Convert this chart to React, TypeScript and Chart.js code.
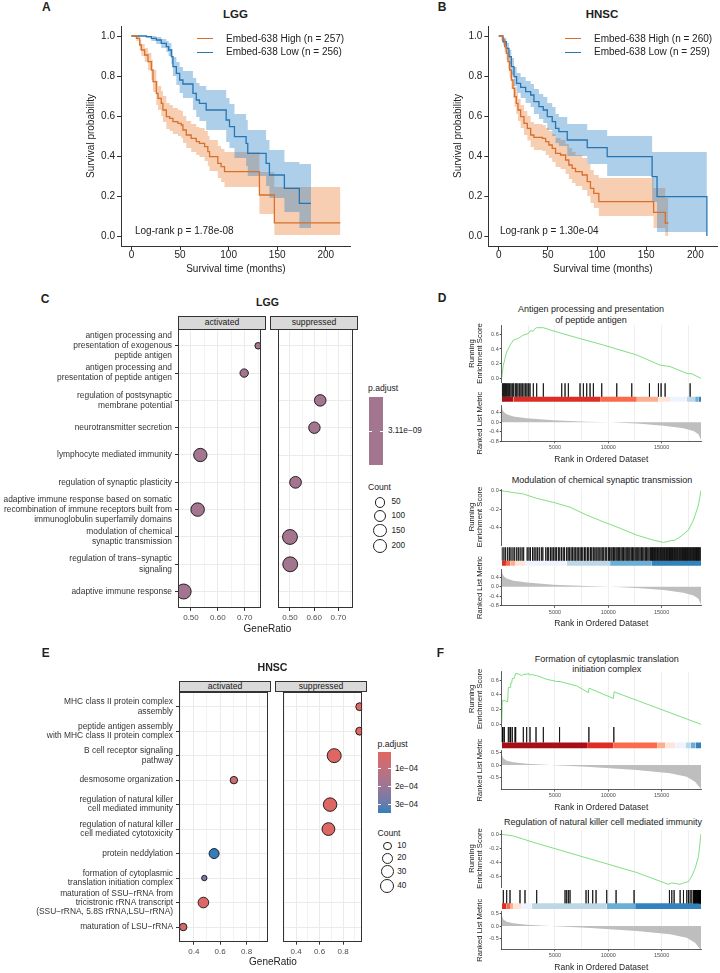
import React, { useEffect, useRef } from 'react';
import { Chart, registerables } from 'chart.js';

Chart.register(...registerables);

const FONT = '"Liberation Sans", Arial, Helvetica, sans-serif';
Chart.defaults.font.family = FONT;
Chart.defaults.color = '#222';

// ---------------- Kaplan–Meier survival data ----------------
const kmXTicks = [0, 50, 100, 150, 200];
const kmYTicks = [0, 0.2, 0.4, 0.6, 0.8, 1.0];

// LGG, Embed-638 High (n = 257)
const lggHighTime = [0, 5.1, 8.5, 10.2, 13.6, 17, 20.5, 22.2, 25.6, 27.3, 30.7, 32.4, 35.9, 39.3, 42.7, 47.8, 51.2, 53, 56.4, 61.5, 66.7, 70, 75.3, 78.6, 80.4, 88.9, 92.3, 95.8, 131.7, 147.1, 215];
const lggHighSurv = [1, 0.988, 0.955, 0.93, 0.905, 0.872, 0.83, 0.772, 0.713, 0.688, 0.663, 0.63, 0.597, 0.588, 0.572, 0.563, 0.555, 0.53, 0.505, 0.488, 0.472, 0.463, 0.447, 0.422, 0.397, 0.363, 0.347, 0.322, 0.205, 0.066, 0.066];
const lggHighLower = [1, 0.975, 0.93, 0.9, 0.87, 0.83, 0.78, 0.72, 0.655, 0.63, 0.6, 0.57, 0.535, 0.525, 0.51, 0.5, 0.49, 0.465, 0.44, 0.42, 0.405, 0.395, 0.375, 0.35, 0.325, 0.29, 0.27, 0.245, 0.11, 0.005, 0.005];
const lggHighUpper = [1, 1, 0.98, 0.96, 0.94, 0.915, 0.88, 0.83, 0.775, 0.75, 0.725, 0.7, 0.665, 0.655, 0.64, 0.63, 0.625, 0.6, 0.575, 0.56, 0.545, 0.54, 0.525, 0.5, 0.48, 0.45, 0.435, 0.42, 0.32, 0.245, 0.245];

// LGG, Embed-638 Low (n = 256)
const lggLowTime = [0, 15.4, 20.5, 25.6, 30.7, 35.9, 38.3, 41.1, 42.7, 46.2, 49.6, 53, 63.3, 66.7, 70, 76.9, 97.5, 100.9, 106, 118, 119.7, 138.6, 142, 157.4, 172.8, 184.8];
const lggLowSurv = [1, 0.997, 0.988, 0.98, 0.963, 0.947, 0.93, 0.897, 0.847, 0.813, 0.78, 0.76, 0.713, 0.68, 0.663, 0.63, 0.58, 0.547, 0.497, 0.463, 0.413, 0.363, 0.305, 0.238, 0.163, 0.163];
const lggLowLower = [1, 0.99, 0.975, 0.96, 0.94, 0.92, 0.9, 0.86, 0.8, 0.755, 0.715, 0.69, 0.63, 0.595, 0.575, 0.53, 0.47, 0.44, 0.39, 0.35, 0.3, 0.25, 0.19, 0.12, 0.04, 0.04];
const lggLowUpper = [1, 1, 1, 0.995, 0.985, 0.975, 0.965, 0.935, 0.895, 0.87, 0.845, 0.825, 0.79, 0.765, 0.75, 0.73, 0.69, 0.66, 0.61, 0.58, 0.53, 0.48, 0.43, 0.37, 0.36, 0.36];

// HNSC, Embed-638 High (n = 260)
const hnscHighTime = [0, 3.7, 6, 7.7, 9.4, 11.1, 12.8, 14.5, 16.2, 17.9, 19.6, 22.3, 25.7, 29.1, 32.5, 35.8, 44.3, 47.7, 51, 54.4, 57.8, 62.9, 68, 71.3, 74.7, 78.1, 84.9, 90, 93.3, 96.7, 101.8, 157.5, 169.4, 172.5];
const hnscHighSurv = [1, 0.98, 0.947, 0.913, 0.872, 0.83, 0.78, 0.738, 0.697, 0.663, 0.63, 0.597, 0.563, 0.538, 0.505, 0.493, 0.488, 0.472, 0.455, 0.438, 0.413, 0.405, 0.38, 0.355, 0.338, 0.322, 0.305, 0.272, 0.238, 0.213, 0.172, 0.118, 0.065, 0.065];
const hnscHighLower = [1, 0.965, 0.92, 0.88, 0.835, 0.79, 0.735, 0.69, 0.645, 0.61, 0.575, 0.54, 0.505, 0.478, 0.445, 0.43, 0.425, 0.405, 0.39, 0.37, 0.345, 0.335, 0.31, 0.285, 0.265, 0.25, 0.23, 0.2, 0.165, 0.14, 0.1, 0.04, 0, 0];
const hnscHighUpper = [1, 0.995, 0.975, 0.945, 0.91, 0.87, 0.825, 0.785, 0.745, 0.715, 0.685, 0.655, 0.625, 0.6, 0.57, 0.56, 0.555, 0.54, 0.525, 0.51, 0.49, 0.48, 0.46, 0.44, 0.42, 0.405, 0.39, 0.36, 0.33, 0.305, 0.29, 0.24, 0.19, 0.19];

// HNSC, Embed-638 Low (n = 259)
const hnscLowTime = [0, 4.4, 7.7, 10.4, 12.8, 15.5, 18.2, 22.3, 27.4, 32.5, 35.8, 40.9, 45.3, 49.4, 54.4, 57.8, 61.2, 69.7, 90, 110.3, 156, 161, 211.7];
const hnscLowSurv = [1, 0.972, 0.938, 0.897, 0.847, 0.797, 0.763, 0.743, 0.722, 0.705, 0.672, 0.647, 0.63, 0.597, 0.572, 0.538, 0.522, 0.48, 0.442, 0.397, 0.297, 0.197, 0];
const hnscLowLower = [1, 0.955, 0.91, 0.86, 0.805, 0.75, 0.715, 0.69, 0.665, 0.645, 0.61, 0.585, 0.565, 0.53, 0.5, 0.465, 0.45, 0.4, 0.36, 0.3, 0.17, 0.02, 0];
const hnscLowUpper = [1, 0.99, 0.965, 0.93, 0.89, 0.845, 0.815, 0.795, 0.775, 0.76, 0.735, 0.71, 0.695, 0.665, 0.645, 0.61, 0.595, 0.56, 0.53, 0.5, 0.42, 0.42, 0];

// ---------------- GO enrichment dot plots ----------------
const M = '\u2212';
const lggTerms = [
  ['antigen processing and', 'presentation of exogenous', 'peptide antigen'],
  ['antigen processing and', 'presentation of peptide antigen'],
  ['regulation of postsynaptic', 'membrane potential'],
  ['neurotransmitter secretion'],
  ['lymphocyte mediated immunity'],
  ['regulation of synaptic plasticity'],
  ['adaptive immune response based on somatic', 'recombination of immune receptors built from', 'immunoglobulin superfamily domains'],
  ['modulation of chemical', 'synaptic transmission'],
  [`regulation of trans${M}synaptic`, 'signaling'],
  ['adaptive immune response'],
];
const lggGroup = ['activated', 'activated', 'suppressed', 'suppressed', 'activated', 'suppressed', 'activated', 'suppressed', 'suppressed', 'activated'];
const lggRatio = [0.75, 0.698, 0.625, 0.601, 0.535, 0.523, 0.525, 0.5, 0.501, 0.473];
const lggCount = [5, 14, 74, 72, 133, 80, 140, 200, 198, 205];
const lggPadj = [3.11e-9, 3.11e-9, 3.11e-9, 3.11e-9, 3.11e-9, 3.11e-9, 3.11e-9, 3.11e-9, 3.11e-9, 3.11e-9];
const lggXMajor = [0.5, 0.6, 0.7];
const lggXMinor = [0.55, 0.65, 0.75];
const lggCountKeys = [50, 100, 150, 200];

const hnscTerms = [
  ['MHC class II protein complex', 'assembly'],
  ['peptide antigen assembly', 'with MHC class II protein complex'],
  ['B cell receptor signaling', 'pathway'],
  ['desmosome organization'],
  ['regulation of natural killer', 'cell mediated immunity'],
  ['regulation of natural killer', 'cell mediated cytotoxicity'],
  ['protein neddylation'],
  ['formation of cytoplasmic', 'translation initiation complex'],
  [`maturation of SSU${M}rRNA from`, 'tricistronic rRNA transcript', `(SSU${M}rRNA, 5.8S rRNA,LSU${M}rRNA)`],
  [`maturation of LSU${M}rRNA`],
];
const hnscGroup = ['suppressed', 'suppressed', 'suppressed', 'activated', 'suppressed', 'suppressed', 'activated', 'activated', 'activated', 'activated'];
const hnscRatio = [0.941, 0.94, 0.724, 0.704, 0.689, 0.675, 0.554, 0.48, 0.473, 0.32];
const hnscCount = [8, 8, 40, 7, 36, 31, 15, 5, 18, 7];
const hnscPadj = [4e-6, 4e-6, 5e-6, 6e-5, 1e-5, 1.2e-5, 3.43e-4, 2.6e-4, 1.5e-5, 4e-5];
const hnscXMajor = [0.4, 0.6, 0.8];
const hnscXMinor = [0.3, 0.5, 0.7, 0.9];
const hnscCountKeys = [10, 20, 30, 40];
const hnscPadjKeys = [1e-4, 2e-4, 3e-4];

// ---------------- GSEA running enrichment score data ----------------
const RANK_MAX = 18700;
const rankXTicks = [2500, 5000, 7500, 10000, 12500, 15000, 17500];
const rankXLabels = [5000, 10000, 15000];

const lggMetricRank = [0, 90, 220, 470, 1100, 2350, 4850, 8000, 10200, 12700, 15200, 17050, 18000, 18460, 18700];
const lggMetricValue = [0.66, 0.52, 0.42, 0.34, 0.25, 0.17, 0.085, 0.025, 0, -0.055, -0.14, -0.25, -0.365, -0.5, -0.75];
const hnscMetricRank = [0, 150, 470, 1090, 2340, 4530, 7970, 12670, 15800, 17360, 18140, 18700];
const hnscMetricValue = [0.45, 0.27, 0.175, 0.11, 0.053, 0, -0.068, -0.2, -0.34, -0.475, -0.68, -0.98];

// Antigen processing and presentation of peptide antigen (LGG)
const d1EsRank = [0, 153, 310, 466, 779, 1092, 1561, 2030, 2500, 2656, 2969, 3063, 3282, 3908, 4534, 6412, 9542, 12672, 14863, 15802, 17368, 17681, 17744, 18700];
const d1EsValue = [0, 0.18, 0.27, 0.36, 0.45, 0.52, 0.545, 0.59, 0.61, 0.645, 0.645, 0.67, 0.69, 0.69, 0.66, 0.58, 0.454, 0.318, 0.18, 0.16, 0.068, 0.06, 0.068, 0];
const d1Hits = [59, 153, 247, 341, 435, 529, 654, 748, 873, 998, 1123, 1279, 1404, 1529, 1686, 1811, 1936, 2092, 2249, 2374, 2531, 2656, 2969, 3282, 3908, 5630, 5943, 6256, 7351, 7664, 7977, 8290, 8603, 9386, 10795, 12203, 13862, 14707, 14957, 15333, 17681];
const d1SegStart = [0, 1090, 9230, 12680, 14700, 15800, 17370, 18150, 18450];
const d1SegColor = ['#A50F15', '#DE2D26', '#FB6A4A', '#FCAE91', '#FEE5D9', '#EFF3FF', '#BDD7E7', '#6BAED6', '#3182BD'];

// Modulation of chemical synaptic transmission (LGG)
const d2EsRank = [0, 1092, 2030, 3282, 4847, 6412, 7977, 9542, 11107, 12672, 14237, 15176, 15802, 16272, 16898, 17525, 17994, 18464, 18700];
const d2EsValue = [0, -0.02, -0.035, -0.083, -0.127, -0.18, -0.266, -0.34, -0.41, -0.485, -0.54, -0.565, -0.547, -0.54, -0.49, -0.43, -0.32, -0.156, 0.005];
const d2Hits = [30, 210, 370, 560, 720, 870, 1060, 1220, 1410, 1560, 1730, 1910, 2060, 2390, 2560, 2700, 2890, 3040, 3210, 3370, 3530, 3720, 3860, 4130, 4280, 4410, 4580, 4720, 4870, 5020, 5150, 5320, 5450, 5610, 5770, 5900, 6090, 6230, 6350, 6510, 6640, 6790, 6910, 7070, 7190, 7350, 7480, 7610, 7770, 7890, 8050, 8170, 8330, 8450, 8600, 8740, 8870, 9030, 9150, 9310, 9440, 9570, 9720, 9850, 10010, 10120, 10250, 10360, 10490, 10600, 10730, 10840, 10970, 11070, 11200, 11320, 11430, 11560, 11680, 11790, 11920, 12030, 12160, 12270, 12390, 12520, 12630, 12760, 12870, 12990, 13120, 13230, 13350, 13480, 13590, 13710, 13830, 13960, 14060, 14150, 14230, 14330, 14410, 14500, 14600, 14680, 14770, 14870, 14950, 15040, 15130, 15220, 15300, 15400, 15480, 15570, 15670, 15750, 15840, 15930, 16020, 16100, 16200, 16280, 16370, 16460, 16540, 16640, 16720, 16810, 16900, 16980, 17070, 17160, 17240, 17330, 17420, 17500, 17590, 17680, 17760, 17850, 17940, 18020, 18110, 18200, 18280, 18370, 18460, 18540, 18630];
const d2SegStart = [0, 400, 800, 1300, 2190, 6100, 10170, 14090];
const d2SegColor = ['#DE2D26', '#FB6A4A', '#FCAE91', '#FEE5D9', '#EFF3FF', '#BDD7E7', '#6BAED6', '#3182BD'];

// Formation of cytoplasmic translation initiation complex (HNSC)
const f1EsRank = [0, 59, 310, 560, 622, 779, 842, 936, 998, 1154, 1311, 1717, 1874, 2030, 2594, 2656, 2813, 3282, 4221, 5160, 5473, 7038, 8133, 8196, 10481, 10544, 18700];
const f1EsValue = [0, 0.32, 0.32, 0.305, 0.5, 0.5, 0.56, 0.56, 0.62, 0.62, 0.69, 0.675, 0.66, 0.675, 0.685, 0.665, 0.675, 0.66, 0.61, 0.58, 0.58, 0.52, 0.43, 0.49, 0.35, 0.44, 0];
const f1Hits = [20, 60, 120, 250, 622, 779, 842, 998, 1250, 1311, 2030, 2343, 2656, 3220, 3908, 5430, 8180, 10520];
const f1SegStart = [0, 8010, 10510, 14580, 15360, 16300, 17240, 17710, 18180];
const f1SegColor = ['#A50F15', '#DE2D26', '#FB6A4A', '#FCAE91', '#FEE5D9', '#EFF3FF', '#BDD7E7', '#6BAED6', '#3182BD'];

// Regulation of natural killer cell mediated immunity (HNSC)
const f2EsRank = [0, 1092, 3282, 6412, 9542, 12672, 15646, 15959, 16429, 16742, 17055, 17525, 17838, 18151, 18464, 18700];
const f2EsValue = [0, -0.024, -0.13, -0.27, -0.41, -0.55, -0.72, -0.7, -0.71, -0.72, -0.7, -0.68, -0.6, -0.49, -0.32, 0.01];
const f2Hits = [153, 466, 779, 1717, 2186, 3282, 5943, 6099, 6256, 6412, 7914, 8133, 8540, 8853, 9855, 10732, 12422, 15740, 15959, 16178, 16742, 17055, 17368, 17525, 17681, 17838, 17994, 18050, 18100, 18151, 18200, 18245, 18300, 18370, 18420, 18464, 18520, 18558, 18600, 18620, 18650, 18683];
const f2SegStart = [0, 470, 780, 1100, 1880, 2820, 9860, 12520];
const f2SegColor = ['#DE2D26', '#FB6A4A', '#FCAE91', '#FEE5D9', '#EFF3FF', '#BDD7E7', '#6BAED6', '#3182BD'];

// ---------------- helpers ----------------
const HIGH_COLOR = '#D86F2B';
const LOW_COLOR = '#2676B4';
const HIGH_BAND = 'rgba(235,125,50,0.38)';
const LOW_BAND = 'rgba(50,135,200,0.4)';

const pts = (xs: number[], ys: (number | null)[]) => xs.map((x, i) => ({ x, y: ys[i] }));
const fixedTicks = (vals: number[]) => (s: any) => {
  s.ticks = vals.map((v) => ({ value: v }));
};

// colour gradient for p.adjust, interpolated in CIE Lab
const hex2rgb = (h: string) => [1, 3, 5].map((i) => parseInt(h.slice(i, i + 2), 16));
const toLin = (c: number) => {
  c /= 255;
  return c <= 0.04045 ? c / 12.92 : Math.pow((c + 0.055) / 1.055, 2.4);
};
const fromLin = (c: number) => {
  const v = c <= 0.0031308 ? 12.92 * c : 1.055 * Math.pow(c, 1 / 2.4) - 0.055;
  return Math.round(Math.min(1, Math.max(0, v)) * 255);
};
function rgb2lab(rgb: number[]) {
  const [r, g, b] = rgb.map(toLin);
  const x = (0.4124564 * r + 0.3575761 * g + 0.1804375 * b) / 0.95047;
  const y = 0.2126729 * r + 0.7151522 * g + 0.072175 * b;
  const z = (0.0193339 * r + 0.119192 * g + 0.9503041 * b) / 1.08883;
  const f = (t: number) => (t > 216 / 24389 ? Math.cbrt(t) : ((24389 / 27) * t + 16) / 116);
  return [116 * f(y) - 16, 500 * (f(x) - f(y)), 200 * (f(y) - f(z))];
}
function lab2rgb(lab: number[]) {
  const [L, a, b] = lab;
  const fy = (L + 16) / 116;
  const fx = fy + a / 500;
  const fz = fy - b / 200;
  const inv = (t: number) => (t * t * t > 216 / 24389 ? t * t * t : (116 * t - 16) / (24389 / 27));
  const x = inv(fx) * 0.95047;
  const y = inv(fy);
  const z = inv(fz) * 1.08883;
  const r = 3.2404542 * x - 1.5371385 * y - 0.4985314 * z;
  const g = -0.969266 * x + 1.8760108 * y + 0.041556 * z;
  const bb = 0.0556434 * x - 0.2040259 * y + 1.0572252 * z;
  return `rgb(${fromLin(r)},${fromLin(g)},${fromLin(bb)})`;
}
const LAB_LOW = rgb2lab(hex2rgb('#e06663'));
const LAB_HIGH = rgb2lab(hex2rgb('#327eba'));
const gradientAt = (t: number) => lab2rgb(LAB_LOW.map((v, i) => v + (LAB_HIGH[i] - v) * t));
const padjScale = (vals: number[]) => {
  const lo = Math.min(...vals);
  const hi = Math.max(...vals);
  return {
    lo,
    hi,
    t: (p: number) => (hi > lo ? (p - lo) / (hi - lo) : 0.5),
    color: (p: number) => gradientAt(hi > lo ? (p - lo) / (hi - lo) : 0.5),
  };
};
const sizeScale = (counts: number[], rMin: number, rMax: number) => {
  const lo = Math.min(...counts);
  const hi = Math.max(...counts);
  return (c: number) => rMin + (rMax - rMin) * Math.sqrt(Math.max(0, (c - lo) / (hi - lo)));
};

const lggColor = padjScale(lggPadj);
const hnscColor = padjScale(hnscPadj);
const lggSize = sizeScale(lggCount, 3.3, 7.5);
const hnscSize = sizeScale(hnscCount, 2.7, 7);

function ChartCanvas({ left, top, width, height, build }: any) {
  const ref = useRef<HTMLCanvasElement | null>(null);
  useEffect(() => {
    const chart = new Chart(ref.current as HTMLCanvasElement, build());
    return () => chart.destroy();
  }, []);
  return (
    <canvas
      ref={ref}
      width={width}
      height={height}
      style={{ position: 'absolute', left, top, width, height }}
    />
  );
}

function T({ x, y, s = 10, bold = false, align = 'left', color = '#222', children }: any) {
  const lh = s * 1.2;
  const style: any = {
    position: 'absolute',
    top: y - lh / 2,
    left: x,
    fontSize: s,
    lineHeight: lh + 'px',
    whiteSpace: 'nowrap',
    color,
    fontWeight: bold ? 'bold' : 'normal',
  };
  if (align === 'center') style.transform = 'translateX(-50%)';
  return <div style={style}>{children}</div>;
}

// ---------------- Kaplan–Meier chart ----------------
function kmConfig(k: any) {
  const line = (t: number[], v: number[], color: string) => ({
    data: pts(t, v), borderColor: color, borderWidth: 1.3, stepped: 'before', pointRadius: 0, fill: false,
  });
  const band = (t: number[], v: number[], fill: any, bg: string) => ({
    data: pts(t, v), borderColor: 'rgba(0,0,0,0)', borderWidth: 0, stepped: 'before', pointRadius: 0, fill, backgroundColor: bg,
  });
  return {
    type: 'line',
    data: {
      datasets: [
        line(k.hiT, k.hiS, HIGH_COLOR),
        line(k.loT, k.loS, LOW_COLOR),
        band(k.loT, k.loU, '+1', LOW_BAND),
        band(k.loT, k.loL, false, LOW_BAND),
        band(k.hiT, k.hiU, '+1', HIGH_BAND),
        band(k.hiT, k.hiL, false, HIGH_BAND),
      ],
    },
    options: {
      animation: false,
      responsive: false,
      devicePixelRatio: 1,
      layout: { padding: { top: 8, right: k.padR, bottom: 0, left: 0 } },
      plugins: { legend: { display: false }, tooltip: { enabled: false } },
      scales: {
        x: {
          type: 'linear', min: k.xMin, max: k.xMax, afterBuildTicks: fixedTicks(kmXTicks),
          grid: { drawOnChartArea: false, tickLength: 4, tickColor: '#333', lineWidth: 1 },
          border: { color: '#333', width: 1 },
          ticks: { autoSkip: false, maxRotation: 0, font: { size: 10, lineHeight: 1 }, color: '#222', padding: 0, callback: (v: any) => String(v) },
          title: { display: true, text: 'Survival time (months)', font: { size: 10, lineHeight: 1.2 }, color: '#222', padding: { top: 0, bottom: 0.7 } },
          afterFit: (s: any) => { s.height = 30; },
        },
        y: {
          type: 'linear', min: -0.05, max: 1.05, afterBuildTicks: fixedTicks(kmYTicks),
          grid: { drawOnChartArea: false, tickLength: 4, tickColor: '#333', lineWidth: 1 },
          border: { color: '#333', width: 1 },
          ticks: { autoSkip: false, font: { size: 10 }, color: '#222', padding: 2, callback: (v: any) => Number(v).toFixed(1) },
          title: { display: true, text: 'Survival probability', font: { size: 10, lineHeight: 1.2 }, color: '#222', padding: { top: 0, bottom: 0 } },
          afterFit: (s: any) => { s.width = k.yW; },
        },
      },
    },
  };
}

// ---------------- dot plot facet ----------------
const framePlugin = {
  id: 'panelFrame',
  afterDatasetsDraw(chart: any) {
    const { ctx, chartArea: a } = chart;
    ctx.save();
    ctx.strokeStyle = '#333';
    ctx.lineWidth = 1;
    const l = Math.round(a.left) + 0.5;
    const t = Math.round(a.top) + 0.5;
    const r = Math.round(a.right) - 0.5;
    const b = Math.round(a.bottom) - 0.5;
    ctx.strokeRect(l, t, r - l, b - t);
    ctx.restore();
  },
};

function dotConfig(d: any) {
  const idx = d.group.map((g: string, i: number) => (g === d.facet ? i : -1)).filter((i: number) => i >= 0);
  const ticksX = [...d.major, ...d.minor].sort((a: number, b: number) => a - b);
  const isMajor = (v: number) => d.major.some((m: number) => Math.abs(m - v) < 1e-9);
  return {
    type: 'scatter',
    data: {
      datasets: [
        {
          data: idx.map((i: number) => ({ x: d.ratio[i], y: i })),
          pointRadius: idx.map((i: number) => d.size(d.count[i])),
          pointBackgroundColor: idx.map((i: number) => d.color(d.padj[i])),
          pointBorderColor: '#111',
          pointBorderWidth: 0.9,
        },
      ],
    },
    options: {
      animation: false,
      responsive: false,
      devicePixelRatio: 1,
      layout: { padding: { top: 8, right: d.padR, bottom: d.padB, left: 0 } },
      plugins: { legend: { display: false }, tooltip: { enabled: false } },
      scales: {
        x: {
          type: 'linear', min: d.xMin, max: d.xMax, afterBuildTicks: fixedTicks(ticksX),
          grid: {
            color: '#ebebeb',
            lineWidth: (c: any) => (c.tick && isMajor(c.tick.value) ? 1 : 0.6),
            tickLength: 3,
            tickColor: (c: any) => (c.tick && isMajor(c.tick.value) ? '#333' : 'rgba(0,0,0,0)'),
          },
          border: { display: false },
          ticks: {
            autoSkip: false, maxRotation: 0, font: { size: 8 }, color: '#4d4d4d', padding: 2.2,
            callback: (v: any) => (isMajor(v) ? Number(v).toFixed(d.digits) : ''),
          },
          afterFit: (s: any) => { s.height = 18; },
        },
        y: {
          type: 'linear', min: -0.6, max: 9.6, reverse: true,
          afterBuildTicks: fixedTicks(d.terms.map((_: any, i: number) => i)),
          grid: { color: '#ebebeb', lineWidth: 1, drawTicks: d.showY, tickLength: 3, tickColor: '#333' },
          border: { display: false },
          ticks: {
            display: d.showY, autoSkip: false, font: { size: 8.4, lineHeight: d.labelLH }, color: '#333', padding: 3,
            callback: (v: any) => d.terms[v],
          },
          afterFit: (s: any) => { s.width = d.yW; },
        },
      },
    },
    plugins: [framePlugin],
  };
}

// ---------------- GSEA plot ----------------
const GSEA_YW = 36.7;

function gseaConfig(g: any) {
  const hitData: any[] = [];
  g.hits.forEach((h: number) => {
    hitData.push({ x: h, y: g.hitBand[0] }, { x: h, y: g.hitBand[1] }, { x: h, y: null });
  });
  const segs = g.segStart.map((s: number, i: number) => ({
    data: [
      { x: s, y: g.barBand[0] },
      { x: i + 1 < g.segStart.length ? g.segStart[i + 1] : RANK_MAX, y: g.barBand[0] },
    ],
    yAxisID: 'yHit',
    borderColor: 'rgba(0,0,0,0)',
    borderWidth: 0,
    pointRadius: 0,
    fill: { value: g.barBand[1] },
    backgroundColor: g.segColor[i],
  }));
  const plotH = g.esH + g.hitH + g.rankH;
  const tickFont = { size: 5.5 };
  return {
    type: 'line',
    data: {
      datasets: [
        { data: pts(g.esRank, g.esValue), yAxisID: 'yES', borderColor: '#72db72', borderWidth: 0.9, pointRadius: 0, fill: false },
        { data: hitData, yAxisID: 'yHit', borderColor: 'rgba(0,0,0,0.72)', borderWidth: 0.8, pointRadius: 0, fill: false, spanGaps: false },
        ...segs,
        { data: pts(g.metricRank, g.metricValue), yAxisID: 'yRank', borderColor: 'rgba(0,0,0,0)', borderWidth: 0, pointRadius: 0, fill: { value: 0 }, backgroundColor: '#bebebe' },
      ],
    },
    options: {
      animation: false,
      responsive: false,
      devicePixelRatio: 1,
      layout: { padding: { top: g.padTop, right: 8, left: 0, bottom: g.canvasH - g.padTop - plotH - 25.1 } },
      plugins: { legend: { display: false }, tooltip: { enabled: false } },
      scales: {
        x: {
          type: 'linear', min: 0, max: RANK_MAX, afterBuildTicks: fixedTicks(rankXTicks),
          grid: {
            color: '#ebebeb', lineWidth: 0.8, tickLength: 2,
            tickColor: (c: any) => (c.tick && rankXLabels.includes(c.tick.value) ? '#444' : 'rgba(0,0,0,0)'),
          },
          border: { color: '#333', width: 0.8 },
          ticks: {
            autoSkip: false, maxRotation: 0, font: tickFont, color: '#4d4d4d', padding: 1,
            callback: (v: any) => (rankXLabels.includes(v) ? String(v) : ''),
          },
          title: { display: true, text: 'Rank in Ordered Dataset', font: { size: 8.5, lineHeight: 1.2 }, color: '#222', padding: { top: 0, bottom: 1.9 } },
          afterFit: (s: any) => { s.height = 25.1; },
        },
        yES: {
          axis: 'y', type: 'linear', position: 'left', stack: 'gsea', stackWeight: g.esH, weight: 3,
          min: g.esMin, max: g.esMax, afterBuildTicks: fixedTicks(g.esTicks),
          grid: { drawOnChartArea: false, tickLength: 2, tickColor: '#444' },
          border: { color: '#333', width: 0.8 },
          ticks: { autoSkip: false, font: tickFont, color: '#4d4d4d', padding: 1, callback: (v: any) => Number(v).toFixed(1) },
          title: { display: true, text: ['Running', 'Enrichment Score'], font: { size: 7.6, lineHeight: 1.1 }, color: '#222', padding: { top: 2.5, bottom: 0 } },
          afterFit: (s: any) => { s.width = GSEA_YW; },
        },
        yHit: {
          axis: 'y', type: 'linear', position: 'left', stack: 'gsea', stackWeight: g.hitH, weight: 2,
          min: 0, max: g.hitH, reverse: true,
          grid: { display: false },
          border: { display: false },
          ticks: { display: false },
          afterFit: (s: any) => { s.width = GSEA_YW; },
        },
        yRank: {
          axis: 'y', type: 'linear', position: 'left', stack: 'gsea', stackWeight: g.rankH, weight: 1,
          min: g.rankMin, max: g.rankMax, afterBuildTicks: fixedTicks(g.rankTicks),
          grid: { drawOnChartArea: false, tickLength: 2, tickColor: '#444' },
          border: { color: '#333', width: 0.8 },
          ticks: { autoSkip: false, font: tickFont, color: '#4d4d4d', padding: 1, callback: (v: any) => Number(v).toFixed(1) },
          title: { display: true, text: 'Ranked List Metric', font: { size: 7.6, lineHeight: 1.1 }, color: '#222', padding: { top: 10.8, bottom: 0 } },
          afterFit: (s: any) => { s.width = GSEA_YW; },
        },
      },
    },
  };
}

function Gsea({ esTop, spec }: any) {
  const canvasTop = Math.floor(esTop - 6);
  const padTop = esTop - canvasTop;
  const canvasH = Math.ceil(padTop + spec.esH + spec.hitH + spec.rankH + 25.1 + 0.5);
  return (
    <ChartCanvas
      left={465}
      top={canvasTop}
      width={244}
      height={canvasH}
      build={() => gseaConfig({ ...spec, padTop, canvasH })}
    />
  );
}

// ---------------- legends ----------------
function KmLegend({ x, y, hi, lo }: any) {
  return (
    <>
      <div style={{ position: 'absolute', left: x, top: y - 0.65, width: 16, height: 1.3, background: HIGH_COLOR }} />
      <div style={{ position: 'absolute', left: x, top: y + 13.6 - 0.65, width: 16, height: 1.3, background: LOW_COLOR }} />
      <T x={x + 29} y={y} s={10}>{hi}</T>
      <T x={x + 29} y={y + 13.6} s={10}>{lo}</T>
    </>
  );
}

function Circle({ cx, cy, r }: any) {
  return (
    <div
      style={{
        position: 'absolute', left: cx - r, top: cy - r, width: 2 * r, height: 2 * r,
        border: '1px solid #222', borderRadius: '50%', boxSizing: 'border-box',
      }}
    />
  );
}

function BarTick({ x, y, w }: any) {
  return (
    <>
      <div style={{ position: 'absolute', left: x, top: y - 0.5, width: 3, height: 1, background: '#fff' }} />
      <div style={{ position: 'absolute', left: x + w - 3, top: y - 0.5, width: 3, height: 1, background: '#fff' }} />
    </>
  );
}

function Strip({ x, y, w, h, label }: any) {
  return (
    <div
      style={{
        position: 'absolute', left: x, top: y, width: w, height: h, boxSizing: 'border-box',
        background: '#d9d9d9', border: '1px solid #333', fontSize: 8.6, color: '#1a1a1a',
        textAlign: 'center', lineHeight: h - 2 + 'px',
      }}
    >
      {label}
    </div>
  );
}

export default function App() {
  const lggDot = {
    terms: lggTerms, group: lggGroup, ratio: lggRatio, count: lggCount, padj: lggPadj,
    xMin: 0.452, xMax: 0.759, major: lggXMajor, minor: lggXMinor, digits: 2,
    size: lggSize, color: lggColor.color, labelLH: 1.2,
  };
  const hnscDot = {
    terms: hnscTerms, group: hnscGroup, ratio: hnscRatio, count: hnscCount, padj: hnscPadj,
    xMin: 0.288, xMax: 0.961, major: hnscXMajor, minor: hnscXMinor, digits: 1,
    size: hnscSize, color: hnscColor.color, labelLH: 1.08,
  };

  const hnscBarTop = 751.7;
  const hnscBarH = 61;
  const hnscStops = Array.from({ length: 11 }, (_, i) => `${gradientAt(i / 10)} ${i * 10}%`).join(', ');
  const padjY = (p: number) => hnscBarTop + hnscColor.t(p) * hnscBarH;

  return (
    <div
      style={{
        position: 'absolute', left: 0, top: 0, width: 720, height: 973, overflow: 'hidden',
        background: '#fff', fontFamily: FONT, color: '#222',
      }}
    >
      {/* ---------- A ---------- */}
      <T x={42} y={7.5} s={12} bold>A</T>
      <T x={235.5} y={15} s={11.5} bold align="center">LGG</T>
      <ChartCanvas
        left={85} top={18} width={274} height={258}
        build={() => kmConfig({
          hiT: lggHighTime, hiS: lggHighSurv, hiL: lggHighLower, hiU: lggHighUpper,
          loT: lggLowTime, loS: lggLowSurv, loL: lggLowLower, loU: lggLowUpper,
          xMin: -10.75, xMax: 225.75, yW: 36, padR: 8.2,
        })}
      />
      <KmLegend x={197} y={38.7} hi="Embed-638 High (n = 257)" lo="Embed-638 Low (n = 256)" />
      <T x={135} y={231} s={10}>Log-rank p = 1.78e-08</T>

      {/* ---------- B ---------- */}
      <T x={437.7} y={7.5} s={12} bold>B</T>
      <T x={602} y={15} s={11.5} bold align="center">HNSC</T>
      <ChartCanvas
        left={452} top={18} width={268} height={258}
        build={() => kmConfig({
          hiT: hnscHighTime, hiS: hnscHighSurv, hiL: hnscHighLower, hiU: hnscHighUpper,
          loT: hnscLowTime, loS: hnscLowSurv, loL: hnscLowLower, loU: hnscLowUpper,
          xMin: -10.6, xMax: 222.3, yW: 36.3, padR: 2.7,
        })}
      />
      <KmLegend x={565} y={38.7} hi="Embed-638 High (n = 260)" lo="Embed-638 Low (n = 259)" />
      <T x={500} y={231} s={10}>Log-rank p = 1.30e-04</T>

      {/* ---------- C ---------- */}
      <T x={40.7} y={299} s={12} bold>C</T>
      <T x={267.5} y={302} s={10.6} bold align="center">LGG</T>
      <Strip x={178} y={316} w={88} h={13.5} label="activated" />
      <Strip x={270} y={316} w={88} h={13.5} label="suppressed" />
      <ChartCanvas
        left={0} top={321} width={269} height={305}
        build={() => dotConfig({ ...lggDot, facet: 'activated', showY: true, yW: 178, padR: 4, padB: 0 })}
      />
      <ChartCanvas
        left={270} top={321} width={91} height={305}
        build={() => dotConfig({ ...lggDot, facet: 'suppressed', showY: false, yW: 0, padR: 4, padB: 0 })}
      />
      <T x={267.5} y={629.3} s={10}>
        <span style={{ display: 'inline-block', transform: 'translateX(-50%)' }}>GeneRatio</span>
      </T>
      <T x={368} y={388.5} s={8.6}>p.adjust</T>
      <div style={{ position: 'absolute', left: 369, top: 397, width: 14, height: 68, background: lggColor.color(lggPadj[0]) }} />
      <BarTick x={369} y={431} w={14} />
      <T x={388} y={431} s={8.2}>{`3.11e${M}09`}</T>
      <T x={368} y={487.5} s={8.6}>Count</T>
      {lggCountKeys.map((c, i) => (
        <React.Fragment key={c}>
          <Circle cx={380} cy={[502.3, 516, 530.5, 546][i]} r={lggSize(c)} />
          <T x={391.5} y={[502.3, 516, 530.5, 546][i]} s={8.2}>{String(c)}</T>
        </React.Fragment>
      ))}

      {/* ---------- D ---------- */}
      <T x={437.7} y={298} s={12} bold>D</T>
      <T x={591} y={309.3} s={9} align="center">Antigen processing and presentation</T>
      <T x={591} y={320} s={9} align="center">of peptide antigen</T>
      <Gsea
        esTop={325}
        spec={{
          esRank: d1EsRank, esValue: d1EsValue, hits: d1Hits, segStart: d1SegStart, segColor: d1SegColor,
          metricRank: lggMetricRank, metricValue: lggMetricValue,
          esMin: -0.05, esMax: 0.727, esTicks: [0, 0.2, 0.4, 0.6],
          rankMin: -0.8, rankMax: 0.73, rankTicks: [-0.8, -0.4, 0, 0.4],
          esH: 57, hitH: 23, rankH: 36.3, hitBand: [1.3, 14.7], barBand: [14.7, 19.7],
        }}
      />
      <T x={602} y={480} s={9} align="center">Modulation of chemical synaptic transmission</T>
      <Gsea
        esTop={489}
        spec={{
          esRank: d2EsRank, esValue: d2EsValue, hits: d2Hits, segStart: d2SegStart, segColor: d2SegColor,
          metricRank: lggMetricRank, metricValue: lggMetricValue,
          esMin: -0.593, esMax: 0.019, esTicks: [-0.4, -0.2, 0],
          rankMin: -0.8, rankMax: 0.725, rankTicks: [-0.8, -0.4, 0, 0.4],
          esH: 56, hitH: 24.3, rankH: 36.6, hitBand: [2.3, 15.7], barBand: [15.7, 20.7],
        }}
      />

      {/* ---------- E ---------- */}
      <T x={41.7} y={653} s={12} bold>E</T>
      <T x={272.5} y={667} s={10.6} bold align="center">HNSC</T>
      <Strip x={179} y={680.7} w={92} h={11.8} label="activated" />
      <Strip x={275} y={680.7} w={92} h={11.8} label="suppressed" />
      <ChartCanvas
        left={0} top={684} width={274} height={276}
        build={() => dotConfig({ ...hnscDot, facet: 'activated', showY: true, yW: 179, padR: 4, padB: 0.3 })}
      />
      <ChartCanvas
        left={275} top={684} width={95} height={276}
        build={() => dotConfig({ ...hnscDot, facet: 'suppressed', showY: false, yW: 0, padR: 4, padB: 0.3 })}
      />
      <T x={273} y={961.7} s={10}>
        <span style={{ display: 'inline-block', transform: 'translateX(-50%)' }}>GeneRatio</span>
      </T>
      <T x={377.5} y={744.5} s={8.6}>p.adjust</T>
      <div
        style={{
          position: 'absolute', left: 377.5, top: hnscBarTop, width: 13.5, height: hnscBarH,
          background: `linear-gradient(to bottom, ${hnscStops})`,
        }}
      />
      {hnscPadjKeys.map((p) => (
        <React.Fragment key={p}>
          <BarTick x={377.5} y={padjY(p)} w={13.5} />
          <T x={395} y={padjY(p)} s={8.2}>{`${Math.round(p * 1e4)}e${M}04`}</T>
        </React.Fragment>
      ))}
      <T x={377.5} y={832.7} s={8.6}>Count</T>
      {hnscCountKeys.map((c, i) => (
        <React.Fragment key={c}>
          <Circle cx={387.3} cy={[846, 858.3, 871.7, 886][i]} r={hnscSize(c)} />
          <T x={397.3} y={[846, 858.3, 871.7, 886][i]} s={8.2}>{String(c)}</T>
        </React.Fragment>
      ))}

      {/* ---------- F ---------- */}
      <T x={436.7} y={653} s={12} bold>F</T>
      <T x={606.8} y={659} s={9} align="center">Formation of cytoplasmic translation</T>
      <T x={606.8} y={669.3} s={9} align="center">initiation complex</T>
      <Gsea
        esTop={671.7}
        spec={{
          esRank: f1EsRank, esValue: f1EsValue, hits: f1Hits, segStart: f1SegStart, segColor: f1SegColor,
          metricRank: hnscMetricRank, metricValue: hnscMetricValue,
          esMin: -0.023, esMax: 0.713, esTicks: [0, 0.2, 0.4, 0.6],
          rankMin: -1.0, rankMax: 0.59, rankTicks: [-0.5, 0, 0.5],
          esH: 54.3, hitH: 24.5, rankH: 39.1, hitBand: [1, 16.3], barBand: [16.5, 22.3],
        }}
      />
      <T x={603} y={822.7} s={9} align="center">Regulation of natural killer cell mediated immunity</T>
      <Gsea
        esTop={830}
        spec={{
          esRank: f2EsRank, esValue: f2EsValue, hits: f2Hits, segStart: f2SegStart, segColor: f2SegColor,
          metricRank: hnscMetricRank, metricValue: hnscMetricValue,
          esMin: -0.758, esMax: 0.062, esTicks: [-0.6, -0.4, -0.2, 0],
          rankMin: -0.95, rankMax: 0.61, rankTicks: [-0.5, 0, 0.5],
          esH: 57, hitH: 24.1, rankH: 38.2, hitBand: [3, 16.3], barBand: [16.3, 22],
        }}
      />
    </div>
  );
}
